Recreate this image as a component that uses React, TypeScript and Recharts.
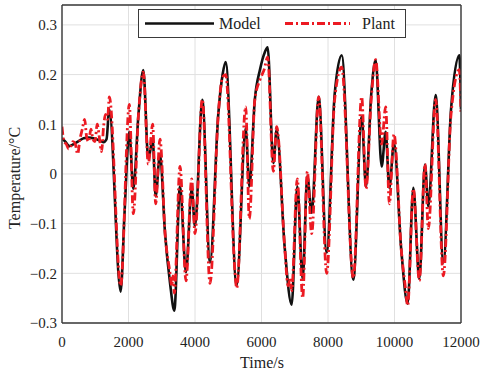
import React from 'react';
import { LineChart, Line, XAxis, YAxis, CartesianGrid, Label } from 'recharts';

// model response
const modelTime = [
  0, 100, 220, 350, 500, 650, 800, 950, 1100, 1250, 1340, 1420, 1764, 1880, 2025, 2145, 2300, 2446,
  2596, 2727, 2817, 2947, 3100, 3250, 3378, 3549, 3729, 3900, 4000, 4220, 4451, 4700, 4830, 4922,
  5253, 5524, 5634, 5800, 5955, 6100, 6185, 6356, 6456, 6700, 6907, 7077, 7238, 7378, 7509, 7719,
  7960, 8200, 8411, 8762, 9013, 9143, 9300, 9434, 9614, 9734, 9845, 9985, 10200, 10396, 10566,
  10747, 10917, 11017, 11238, 11469, 11700, 11950, 12000,
];
const modelTemp = [
  0.072, 0.065, 0.056, 0.06, 0.066, 0.072, 0.073, 0.072, 0.068, 0.064, 0.07, 0.13, -0.237, -0.08,
  0.085, -0.03, 0.12, 0.209, 0.03, 0.07, -0.045, 0.04, -0.12, -0.22, -0.275, -0.025, -0.198, -0.03,
  -0.105, 0.149, -0.178, 0.12, 0.2, 0.225, -0.225, 0.092, -0.025, 0.15, 0.21, 0.245, 0.255, 0.022,
  0.089, -0.15, -0.263, -0.025, -0.211, -0.005, -0.078, 0.155, -0.158, 0.16, 0.239, -0.213, 0.115,
  -0.025, 0.16, 0.229, 0.015, 0.085, -0.028, 0.062, -0.15, -0.261, -0.028, -0.211, 0.019, -0.065,
  0.159, -0.178, 0.13, 0.239, 0.13,
];

// plant measurement, red dash-dot curve
const plantTime = [
  0, 60, 130, 200, 260, 330, 400, 470, 540, 610, 680, 740, 800, 870, 930, 990, 1060, 1120, 1190,
  1250, 1310, 1370, 1424, 1764, 2025, 2145, 2300, 2446, 2596, 2727, 2817, 2947, 3100, 3250, 3300,
  3340, 3378, 3549, 3729, 3900, 4000, 4220, 4451, 4700, 4830, 4922, 5200, 5253, 5524, 5634, 5800,
  5955, 6080, 6185, 6356, 6456, 6700, 6800, 6860, 6907, 7077, 7238, 7378, 7509, 7719, 7960, 8200,
  8411, 8762, 9013, 9143, 9300, 9434, 9614, 9734, 9845, 9985, 10200, 10330, 10396, 10566, 10747,
  10917, 11017, 11238, 11469, 11700, 11950, 12000,
];
const plantTemp = [
  0.095, 0.065, 0.06, 0.05, 0.055, 0.065, 0.06, 0.04, 0.07, 0.09, 0.11, 0.075, 0.065, 0.09, 0.07,
  0.065, 0.1, 0.075, 0.045, 0.095, 0.12, 0.11, 0.155, -0.225, 0.14, -0.08, 0.12, 0.205, 0.02, 0.1,
  -0.06, 0.07, -0.12, -0.2, -0.225, -0.205, -0.24, 0.015, -0.215, -0.01, -0.12, 0.15, -0.22, 0.12,
  0.195, 0.2, -0.195, -0.23, 0.135, -0.09, 0.15, 0.19, 0.21, 0.235, 0.005, 0.095, -0.15, -0.225,
  -0.21, -0.235, -0.01, -0.25, 0.005, -0.12, 0.155, -0.2, 0.15, 0.215, -0.21, 0.155, -0.03, 0.15,
  0.23, 0.06, 0.135, -0.06, 0.08, -0.15, -0.23, -0.265, -0.03, -0.215, 0.02, -0.11, 0.15, -0.205,
  0.12, 0.21, 0.12,
];

const xTicks = [0, 2000, 4000, 6000, 8000, 10000, 12000];
const yTicks = [-0.3, -0.2, -0.1, 0, 0.1, 0.2, 0.3];

const modelData = modelTime.map((t, i) => ({ t, v: modelTemp[i] }));
const plantData = plantTime.map((t, i) => ({ t, v: plantTemp[i] }));

const FONT = 'Liberation Serif, Times New Roman, Times, serif';
const FRAME = '#3a3a3a';
const PLANT_RED = '#ec1a22';
const PLANT_DASH = '8 3 2 3';

const fmtY = (v: number) => (v === 0 ? '0' : v < 0 ? '\u2212' + Math.abs(v) : String(v));

export default function App() {
  return (
    <div style={{ position: 'absolute', left: 0, top: 0, width: 480, height: 375, background: '#fff', fontFamily: FONT }}>
      <LineChart width={480} height={375} margin={{ top: 5, right: 19, bottom: 0, left: 0 }} style={{ fontFamily: FONT }}>
        <CartesianGrid stroke="#e0e0e0" strokeWidth={1} />
        <XAxis
          dataKey="t"
          type="number"
          domain={[0, 12000]}
          ticks={xTicks}
          height={52}
          tickLine={false}
          tickSize={0}
          tickMargin={13}
          axisLine={{ stroke: FRAME, strokeWidth: 1.4 }}
          tick={{ fill: '#222', fontSize: 15, fontFamily: FONT }}
          allowDataOverflow
        >
          <Label
            content={() => (
              <text x={262} y={368} textAnchor="middle" fontSize={16} fontFamily={FONT} fill="#222">
                Time/s
              </text>
            )}
          />
        </XAxis>
        <XAxis
          xAxisId="top"
          orientation="top"
          type="number"
          domain={[0, 12000]}
          ticks={xTicks}
          mirror
          tick={false}
          tickSize={4}
          tickLine={{ stroke: FRAME }}
          axisLine={{ stroke: FRAME, strokeWidth: 1.4 }}
          allowDataOverflow
        />
        <YAxis
          type="number"
          domain={[-0.3, 0.34]}
          ticks={yTicks}
          width={62}
          tickLine={false}
          tickSize={0}
          tickMargin={5}
          tickFormatter={fmtY}
          axisLine={{ stroke: FRAME, strokeWidth: 1.4 }}
          tick={{ fill: '#222', fontSize: 15, fontFamily: FONT }}
          allowDataOverflow
        >
          <Label
            content={() => (
              <text
                x={20}
                y={178}
                transform="rotate(-90 20 178)"
                textAnchor="middle"
                fontSize={16}
                fontFamily={FONT}
                fill="#222"
              >
                Temperature/°C
              </text>
            )}
          />
        </YAxis>
        <YAxis
          yAxisId="right"
          orientation="right"
          type="number"
          domain={[-0.3, 0.34]}
          ticks={yTicks}
          mirror
          tick={false}
          tickSize={4}
          tickLine={{ stroke: FRAME }}
          axisLine={{ stroke: FRAME, strokeWidth: 1.4 }}
          allowDataOverflow
        />
        <Line
          data={modelData}
          dataKey="v"
          type="monotone"
          stroke="#111"
          strokeWidth={2.6}
          dot={false}
          isAnimationActive={false}
        />
        <Line
          data={plantData}
          dataKey="v"
          type="monotone"
          stroke={PLANT_RED}
          strokeWidth={2.8}
          strokeDasharray={PLANT_DASH}
          dot={false}
          isAnimationActive={false}
        />
      </LineChart>
      <div
        style={{
          position: 'absolute',
          left: 138,
          top: 9,
          width: 268,
          height: 29,
          boxSizing: 'border-box',
          border: `1.4px solid ${FRAME}`,
          background: '#fff',
        }}
      >
        <svg width={266} height={27} style={{ display: 'block' }}>
          <line x1={6} y1={13.5} x2={75} y2={13.5} stroke="#111" strokeWidth={2.6} />
          <text x={80} y={19} fontSize={16} fontFamily={FONT} fill="#222">
            Model
          </text>
          <line x1={146} y1={13.5} x2={211} y2={13.5} stroke={PLANT_RED} strokeWidth={2.8} strokeDasharray={PLANT_DASH} />
          <text x={223} y={19} fontSize={16} fontFamily={FONT} fill="#222">
            Plant
          </text>
        </svg>
      </div>
    </div>
  );
}
